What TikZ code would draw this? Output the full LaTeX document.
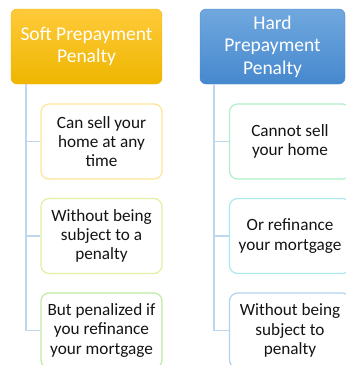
\documentclass[tikz,border=0pt]{standalone}
\usepackage{fontspec}
\setmainfont{Carlito}
\usepackage{tikz}
\usetikzlibrary{shapes}
\usepackage{color}

\definecolor{goldtop}{RGB}{255,202,58}
\definecolor{goldbot}{RGB}{238,182,0}
\definecolor{bluetop}{RGB}{112,168,222}
\definecolor{bluebot}{RGB}{70,136,206}
\definecolor{linkblue}{RGB}{189,215,238}
\definecolor{edgegold}{RGB}{255,228,150}
\definecolor{edgelime}{RGB}{224,240,165}
\definecolor{edgegreen}{RGB}{190,234,165}
\definecolor{edgemint}{RGB}{178,238,200}
\definecolor{edgecyan}{RGB}{172,232,240}
\definecolor{edgesky}{RGB}{178,210,240}
\definecolor{txt}{RGB}{20,20,20}

\tikzset{
  head/.style={rectangle,rounded corners=6pt,minimum width=151pt,minimum height=75pt,
    align=center,text=white,font=\fontsize{19.5}{22.3}\selectfont,inner sep=0pt},
  leaf/.style={draw,rectangle,rounded corners=8pt,line width=1.2pt,fill=white,
    minimum width=121pt,minimum height=75pt,align=center,text=txt,
    font=\fontsize{17.2}{19.4}\selectfont,inner sep=0pt},
  link/.style={draw=linkblue,line width=1.2pt}
}

\begin{document}
\begin{tikzpicture}[x=1pt,y=1pt]
  \useasboundingbox (0,0) rectangle (346,-365);

  \node[head,top color=goldtop,bottom color=goldbot,draw=goldbot] at (86.5,-46.5) (soft) {Soft Prepayment\\Penalty};
  \node[head,top color=bluetop,bottom color=bluebot,draw=bluebot,minimum width=145pt] at (272.5,-46.5) (hard) {Hard\\Prepayment\\Penalty};

  \node[leaf,draw=edgegold] at (101.5,-141.5) (soft-1) {Can sell your\\home at any\\time};
  \node[leaf,draw=edgelime] at (101.5,-236) (soft-2) {Without being\\subject to a\\penalty};
  \node[leaf,draw=edgegreen] at (101.5,-330.5) (soft-3) {But penalized if\\you refinance\\your mortgage};

  \node[leaf,draw=edgemint] at (290,-141.5) (hard-1) {Cannot sell\\your home};
  \node[leaf,draw=edgecyan] at (290,-236) (hard-2) {Or refinance\\your mortgage};
  \node[leaf,draw=edgesky] at (290,-330.5) (hard-3) {Without being\\subject to\\penalty};

  \coordinate (soft-root) at (26,-84);
  \coordinate (hard-root) at (214,-84);

  \draw[link] (soft-root) |- (soft-1.west); \draw[link] (soft-root) |- (soft-2.west); \draw[link] (soft-root) |- (soft-3.west);
  \draw[link] (hard-root) |- (hard-1.west); \draw[link] (hard-root) |- (hard-2.west); \draw[link] (hard-root) |- (hard-3.west);

\end{tikzpicture}
\end{document}
